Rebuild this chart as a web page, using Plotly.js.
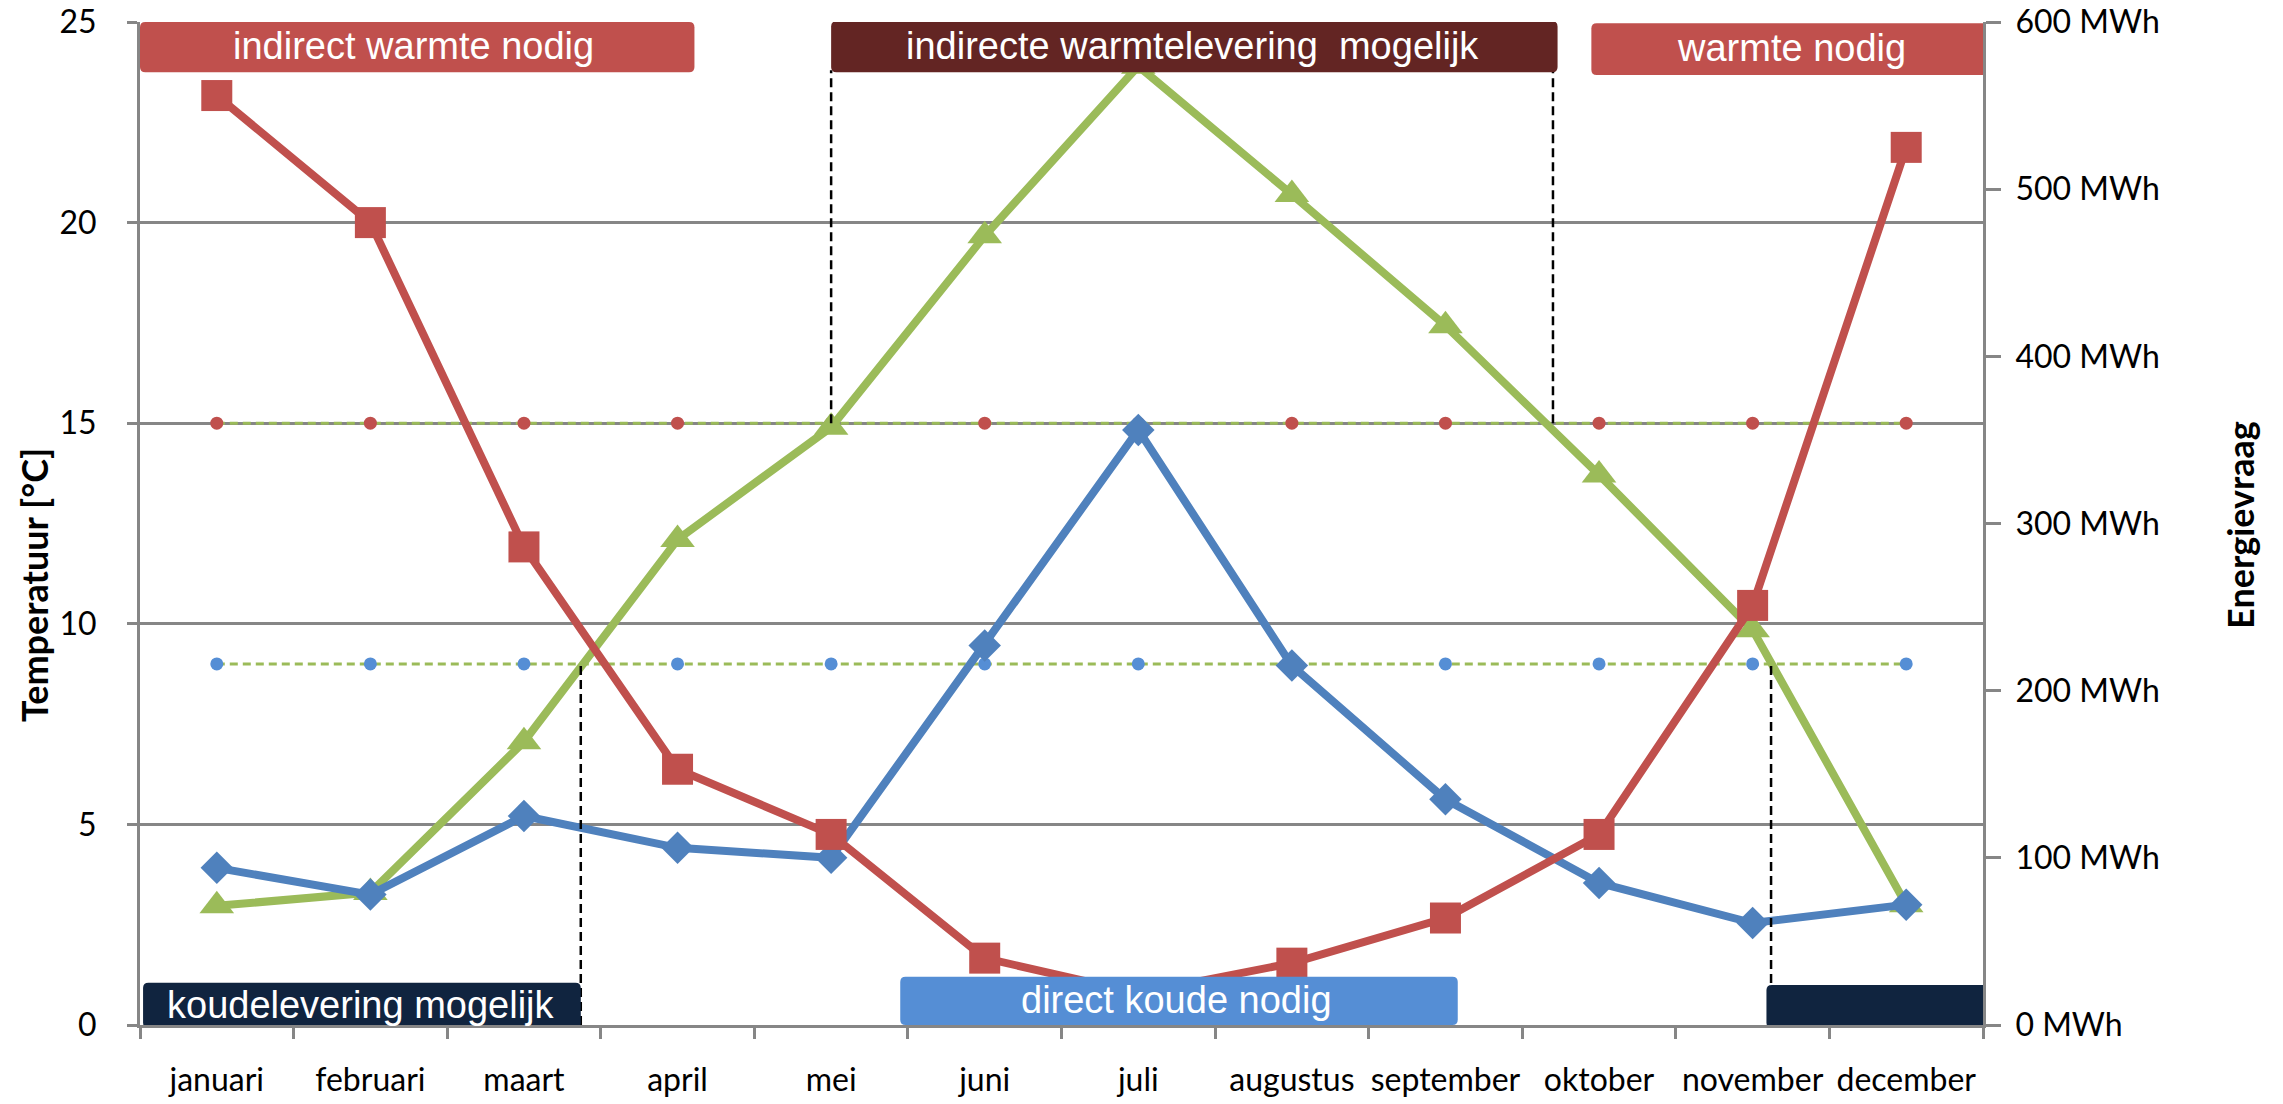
<!DOCTYPE html>
<html>
<head>
<meta charset="utf-8">
<script src="https://cdn.plot.ly/plotly-3.0.1.min.js"></script>
<style>html,body{margin:0;padding:0;background:#fff;}#chart{width:2283px;height:1104px;}</style>
</head>
<body>
<div id="chart"></div>
<script>
// ---- data ----
const maanden = ['januari','februari','maart','april','mei','juni','juli','augustus','september','oktober','november','december'];
const temperatuur = [2.97, 3.3, 7.06, 12.1, 14.9, 19.67, 23.9, 20.7, 17.43, 13.71, 9.85, 3.0];   // °C
const warmtevraag = [556, 480, 286, 153, 114, 40, 19, 37, 64, 114, 251, 525];                    // MWh
const koudevraag = [94, 78, 125, 106, 100, 227, 356, 215, 135, 85, 61, 72];                       // MWh
const grensWarmte = [15, 15, 15, 15, 15, 15, 15, 15, 15, 15, 15, 15];                            // °C
const grensKoude = [9, 9, 9, 9, 9, 9, 9, 9, 9, 9, 9, 9];                                         // °C
const yTicksLeft = [0, 5, 10, 15, 20, 25];
const yTicksRight = [0, 100, 200, 300, 400, 500, 600];
const yTickTextRight = ['0 MWh', '100 MWh', '200 MWh', '300 MWh', '400 MWh', '500 MWh', '600 MWh'];

// period boxes: [x0, x1, y0, y1] in category index / °C
const perioden = [
  {tekst: 'indirect warmte nodig', x0: -0.5, x1: 3.11, y0: 23.75, y1: 25.0, tx: 1.28, kleur: '#C0504D'},
  {tekst: 'indirecte warmtelevering  mogelijk', x0: 4.0, x1: 8.73, y0: 23.75, y1: 25.02, tx: 6.35, kleur: '#632523'},
  {tekst: 'warmte nodig', x0: 8.95, x1: 11.57, y0: 23.68, y1: 24.97, tx: 10.25, kleur: '#C0504D'},
  {tekst: 'koudelevering mogelijk', x0: -0.48, x1: 2.37, y0: -0.07, y1: 1.05, tx: 0.94, kleur: '#10243F'},
  {tekst: 'direct koude nodig', x0: 4.45, x1: 8.08, y0: 0.0, y1: 1.2, tx: 6.25, kleur: '#558ED5'},
  {tekst: '', x0: 10.09, x1: 11.57, y0: -0.07, y1: 1.0, tx: 10.8, kleur: '#10243F'}
];
// dashed vertical markers: [x, y0, y1]
const scheidingen = [[4.0, 15, 23.8], [8.70, 15, 23.8], [2.37, 0, 9], [10.12, 0, 9]];

const FONT = 'Lato, "Open Sans", sans-serif';
const BOXFONT = '"Liberation Sans", Arial, sans-serif';
const GRID = '#868686';

function rrect(x0, x1, y0, y1) {
  const rx = 0.035, ry = 0.13;
  return `M ${x0+rx},${y0} L ${x1-rx},${y0} Q ${x1},${y0} ${x1},${y0+ry} L ${x1},${y1-ry} Q ${x1},${y1} ${x1-rx},${y1} L ${x0+rx},${y1} Q ${x0},${y1} ${x0},${y1-ry} L ${x0},${y0+ry} Q ${x0},${y0} ${x0+rx},${y0} Z`;
}

const traces = [
  {x: maanden, y: grensWarmte, type: 'scatter', mode: 'lines+markers', yaxis: 'y',
   line: {color: '#9BBB59', width: 3, dash: '8px,5px'}, marker: {symbol: 'circle', size: 13, color: '#C0504D'}, hoverinfo: 'skip'},
  {x: maanden, y: grensKoude, type: 'scatter', mode: 'lines+markers', yaxis: 'y',
   line: {color: '#9BBB59', width: 3, dash: '8px,5px'}, marker: {symbol: 'circle', size: 13, color: '#558ED5'}, hoverinfo: 'skip'},
  {x: maanden, y: temperatuur, type: 'scatter', mode: 'lines+markers', yaxis: 'y', name: 'temperatuur',
   line: {color: '#9BBB59', width: 8}, marker: {symbol: 'triangle-up', size: 30, color: '#9BBB59'}},
  {x: maanden, y: koudevraag, type: 'scatter', mode: 'lines+markers', yaxis: 'y2', name: 'koudevraag',
   line: {color: '#4F81BD', width: 8}, marker: {symbol: 'diamond', size: 25, color: '#4F81BD'}},
  {x: maanden, y: warmtevraag, type: 'scatter', mode: 'lines+markers', yaxis: 'y2', name: 'warmtevraag',
   line: {color: '#C0504D', width: 8}, marker: {symbol: 'square', size: 31, color: '#C0504D'}}
];

const shapes = [];
const annotations = [];
scheidingen.forEach(s => shapes.push({type: 'line', xref: 'x', yref: 'y', x0: s[0], x1: s[0], y0: s[1], y1: s[2],
  line: {color: '#000', width: 2.5, dash: '9px,5px'}, layer: 'above'}));
perioden.forEach(p => {
  shapes.push({type: 'path', xref: 'x', yref: 'y', path: rrect(p.x0, p.x1, p.y0, p.y1),
    fillcolor: p.kleur, line: {width: 0}, layer: 'above'});
  if (p.tekst) annotations.push({xref: 'x', yref: 'y', x: p.tx, y: (p.y0 + p.y1) / 2 + 0.02, text: p.tekst, showarrow: false,
    font: {family: BOXFONT, size: 38, color: '#ffffff'}, xanchor: 'center', yanchor: 'middle'});
});
annotations.push({xref: 'paper', yref: 'paper', x: -0.0575, y: 0.4387, text: '<b>Temperatuur [°C]</b>', textangle: -90,
  showarrow: false, font: {family: FONT, size: 36, color: '#000'}, xanchor: 'center', yanchor: 'middle'});
annotations.push({xref: 'paper', yref: 'paper', x: 1.1394, y: 0.4985, text: '<b>Energievraag</b>', textangle: -90,
  showarrow: false, font: {family: FONT, size: 36, color: '#000'}, xanchor: 'center', yanchor: 'middle'});

const layout = {
  width: 2283, height: 1104,
  margin: {l: 140, r: 300, t: 22, b: 79, pad: 0},
  paper_bgcolor: '#ffffff', plot_bgcolor: '#ffffff',
  font: {family: FONT, size: 32, color: '#000'},
  showlegend: false,
  xaxis: {type: 'category', categoryorder: 'array', categoryarray: maanden, range: [-0.5, 11.5],
    tickson: 'boundaries', ticks: 'outside', ticklen: 11, tickwidth: 3, tickcolor: GRID, tickangle: 0,
    showline: true, linecolor: GRID, linewidth: 3, showgrid: false, zeroline: false, automargin: false,
    tickfont: {family: FONT, size: 32, color: '#000'}, ticklabelstandoff: 25, fixedrange: true},
  yaxis: {range: [0, 25], tickvals: yTicksLeft, ticks: 'outside', ticklen: 10, tickwidth: 3, tickcolor: GRID,
    showline: true, linecolor: GRID, linewidth: 3, showgrid: true, gridcolor: GRID, gridwidth: 3, zeroline: false,
    automargin: false, tickfont: {family: FONT, size: 32, color: '#000'}, ticklabelstandoff: 24},
  yaxis2: {range: [0, 600], tickmode: 'array', tickvals: yTicksRight, ticktext: yTickTextRight, overlaying: 'y', side: 'right',
    ticks: 'outside', ticklen: 15, tickwidth: 3, tickcolor: GRID, automargin: false,
    showline: true, linecolor: GRID, linewidth: 3, showgrid: false, zeroline: false,
    tickfont: {family: FONT, size: 32, color: '#000'}, ticklabelstandoff: 8},
  shapes: shapes,
  annotations: annotations
};

Plotly.newPlot('chart', traces, layout, {displayModeBar: false, staticPlot: true});
</script>
</body>
</html>
